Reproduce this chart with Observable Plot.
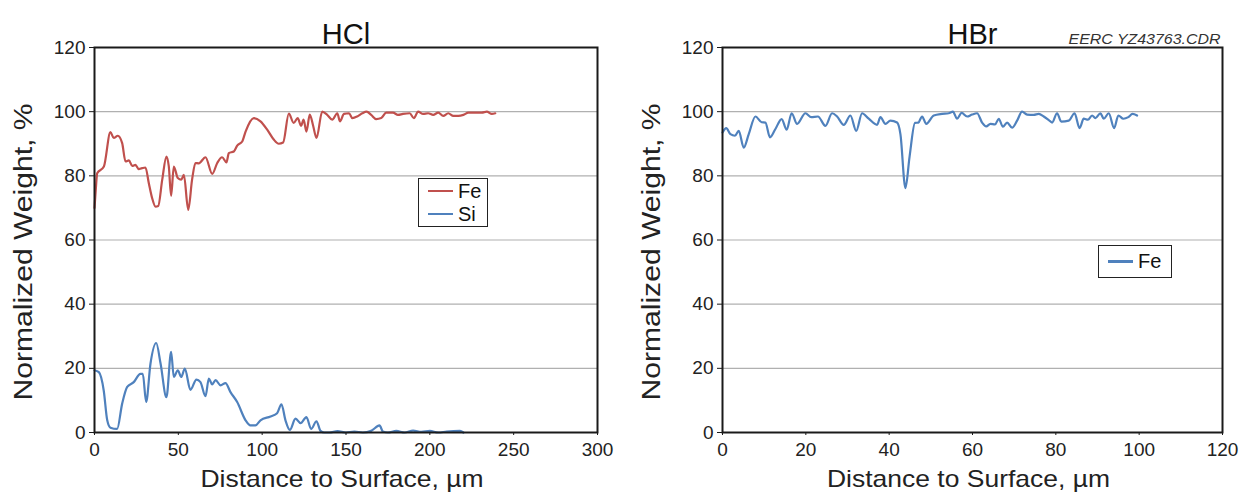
<!DOCTYPE html>
<html><head><meta charset="utf-8">
<script src="https://cdn.jsdelivr.net/npm/d3@7"></script>
<script src="https://cdn.jsdelivr.net/npm/@observablehq/plot@0.6"></script>
<style>
body{margin:0;background:#fff;font-family:"Liberation Sans",Arial,sans-serif;}
#wrap{position:relative;width:1247px;height:492px;display:flex;}
.legend{position:absolute;box-sizing:border-box;border:1.5px solid #222;background:#fff;font-size:20px;color:#111;display:flex;flex-direction:column;justify-content:center;}
.legend .row{display:flex;align-items:center;height:23px;}
.legend .sw{width:25px;height:2.5px;margin-left:9px;margin-right:5px;}
</style>
</head><body>
<div id="wrap"></div>
<script>
// ---- Data ----
const titles = ["HCl", "HBr"];
const yLabel = "Normalized Weight, %";
const xLabel = "Distance to Surface, µm";
const note = "EERC YZ43763.CDR";
const yTicks = [0, 20, 40, 60, 80, 100, 120];
const hclXTicks = [0, 50, 100, 150, 200, 250, 300];
const hbrXTicks = [0, 20, 40, 60, 80, 100, 120];
const seriesNames = ["Fe", "Si"];
const colors = {Fe: "#c0504d", Si: "#4f81bd", FeBr: "#4f81bd"};

const hclFeDist = [0,0.8,1.6,5.6,9.5,11.5,13.9,16.5,18.5,20.5,22.5,24.4,26.4,28.4,30.4,32.4,34.4,36.4,38,40.4,42.9,44.3,45.7,47.3,49.7,51.7,53.3,55.9,58.2,60.2,62.2,66.2,70.2,73.2,76.1,78.7,80.1,83.1,85.1,88.1,90.1,95,99,103,106.9,109.9,112.5,115.9,118.8,121.2,123.2,124.7,126.4,128.4,130.4,132.4,135.8,138.8,141.8,144.8,146.4,148.8,151.8,153.8,156.7,159.7,162.3,165,168,171,174,178,181,184,188,190.5,193,196,199,202,205,208,211,214,217,220,223,227,231,234,237,239];
const hclFe = [70,76,80.8,82.9,93.6,91.8,92.5,90.2,84.5,84.8,83.1,83.4,82.1,82.4,82.6,77.7,73,70.4,70.6,78.8,86,83,73.8,82.9,79.3,78.8,80.3,69.4,78.8,84,83.9,85.8,80.6,84,85.8,84.2,87.1,87.6,89.4,90.7,93.8,98,97,94.4,91.3,90,90.4,99.4,96.5,98,95.6,97.5,93.8,99.1,95.6,91.8,100,99,97.5,99.5,97,99.3,99.5,98,98.5,99.5,100,99,97.7,98,99.7,99.7,99,99.3,99.5,98,100,99.3,99.5,99,99.7,98.7,99.5,98.7,98.7,99,99.7,99.7,99.7,100,99.3,99.5];

const hclSiDist = [0,2.6,5.5,7.6,9.5,13.5,16.5,19.5,23.4,27.4,28.8,30.8,33.4,36.8,39.4,42.9,45.7,47.3,49.7,51.7,53.9,57.2,60.8,63.2,66.2,68.2,70.2,72.2,75.2,78.1,81.1,85.1,90.1,93,96,99,105,108.9,111.5,113.9,116.5,119.9,122.9,126.4,129.2,132.4,134.8,137,140,145,150,155,160,165,170,172,175,180,185,190,195,200,205,210,218,220];
const hclSi = [19.4,18.8,13.1,3.8,1.5,1.1,9,14.2,15.7,18.3,18.3,9.5,21.5,27.9,21.5,11,25.1,17.3,19.4,17.3,19.9,13.3,16.5,15.7,11.3,16.8,15,16.3,14.7,15.4,12.6,9.5,3.8,2.2,2.2,3.8,5,6,8.8,3.8,0.8,4.3,2.9,4.8,1.1,3.5,0.5,0,0,0.4,0,0.3,0,0.5,2.2,0.3,0,0.5,0,0.6,0.2,0.5,0,0.3,0.5,0];

const hbrDist = [0,0.9,1.9,3,3.9,5.1,6.3,7.9,9.4,10.3,11.4,12.7,14.2,15.4,16.6,17.9,19.9,21.3,22.9,24.7,26.3,27.5,29.1,30.7,32.1,33.5,35.1,37.1,37.9,39.1,40.3,41.9,42.7,43.9,44.9,46.2,47,47.9,48.9,50.7,52.7,54.3,55.3,56.3,57.4,58.7,59.9,61.1,62.3,63.3,64.3,65.4,66.3,67.3,68.3,69.5,70.7,71.9,73.1,74.7,75.9,77.1,78.3,79.1,80.3,81.3,83.1,84.5,85.7,86.7,87.7,88.7,89.5,90.7,91.5,92.7,94,95,96.2,97.4,98.4,99.5];
const hbrFe = [93.5,94.9,93,92.5,94,88.8,93,98.5,96.7,96.6,92,94.6,97.7,94.4,99.5,96.2,99.5,98.3,98.5,95.6,99.5,98.5,95.9,98.8,94,99.5,97.8,95.9,98.3,96.2,97.2,96.6,93,76.2,86,96.5,96.6,98.5,96.2,98.8,99.3,99.5,100,97.8,99.6,98.5,99.1,99.5,96.6,95.4,96.2,96,97.8,95.3,96.6,95,97.2,100,99.1,99,99.3,98.5,97.4,96.6,99.5,96.9,97.2,99.5,94.9,97.8,97.5,98.8,98,99.5,97.8,99.5,94.9,98.8,97.8,98.3,99.3,98.8];

const font = '"Liberation Sans", Arial, sans-serif';

function panel({width, marginLeft, marginRight, xDomain, xTicks, title, lines, extra = []}) {
  const svg = Plot.plot({
    width, height: 492,
    marginLeft, marginRight, marginTop: 47, marginBottom: 60,
    style: {fontFamily: font, color: "#222", background: "#fff", overflow: "visible"},
    x: {domain: xDomain},
    y: {domain: [0, 120]},
    marks: [
      Plot.gridY([20, 40, 60, 80, 100], {stroke: "#b0b0b0", strokeOpacity: 1, strokeWidth: 1.2}),
      ...lines,
      Plot.frame({stroke: "#1a1a1a", strokeWidth: 2}),
      Plot.axisY(yTicks, {tickSize: 5, tickPadding: 4, fontSize: 19, label: null, stroke: "#1a1a1a"}),
      Plot.axisX(xTicks, {tickSize: 3, tickPadding: 7, fontSize: 19, label: null, stroke: "#1a1a1a"}),
      Plot.text([yLabel], {frameAnchor: "left", textAnchor: "middle", rotate: -90, dx: -71, dy: 12, fontSize: 25, fill: "#222"}),
      Plot.text([xLabel], {frameAnchor: "bottom", dx: -4, dy: 54, fontSize: 24, fill: "#222"}),
      Plot.text([title], {frameAnchor: "top", dy: -24, fontSize: 29, fill: "#111"}),
      ...extra
    ]
  });
  d3.select(svg).selectAll("text").each(function() {
    const t = this.textContent;
    if (t === yLabel) { this.setAttribute("textLength", 297); this.setAttribute("lengthAdjust", "spacingAndGlyphs"); }
    if (t === xLabel) { this.setAttribute("textLength", 283); this.setAttribute("lengthAdjust", "spacingAndGlyphs"); }
    if (t === note) { this.setAttribute("textLength", 152); this.setAttribute("lengthAdjust", "spacingAndGlyphs"); }
  });
  return svg;
}

const hclFeData = hclFeDist.map((d, i) => ({d, v: hclFe[i]}));
const hclSiData = hclSiDist.map((d, i) => ({d, v: hclSi[i]}));
const hbrData = hbrDist.map((d, i) => ({d, v: hbrFe[i]}));

const left = panel({
  width: 623, marginLeft: 94, marginRight: 26,
  xDomain: [0, 300], xTicks: hclXTicks, title: titles[0],
  lines: [
    Plot.line(hclSiData, {x: "d", y: "v", stroke: colors.Si, strokeWidth: 2.2, curve: "monotone-x"}),
    Plot.line(hclFeData, {x: "d", y: "v", stroke: colors.Fe, strokeWidth: 2.2, curve: "monotone-x"})
  ]
});
const right = panel({
  width: 624, marginLeft: 99, marginRight: 25,
  xDomain: [0, 120], xTicks: hbrXTicks, title: titles[1],
  lines: [
    Plot.line(hbrData, {x: "d", y: "v", stroke: colors.FeBr, strokeWidth: 2.2, curve: "monotone-x"})
  ],
  extra: [
    Plot.text([note], {frameAnchor: "top-right", textAnchor: "end", lineAnchor: "bottom", dy: -4, dx: -2, fontSize: 15.5, fontStyle: "italic", fill: "#333"})
  ]
});

const wrap = document.getElementById("wrap");
wrap.append(left, right);

function legend(items, left, top, w, h) {
  const box = document.createElement("div");
  box.className = "legend";
  Object.assign(box.style, {left: left + "px", top: top + "px", width: w + "px", height: h + "px"});
  for (const [name, color] of items) {
    const row = document.createElement("div");
    row.className = "row";
    const sw = document.createElement("span");
    sw.className = "sw";
    sw.style.background = color;
    const t = document.createElement("span");
    t.textContent = name;
    row.append(sw, t);
    box.append(row);
  }
  wrap.append(box);
}
legend([[seriesNames[0], colors.Fe], [seriesNames[1], colors.Si]], 418, 178, 70, 49);
legend([[seriesNames[0], colors.FeBr]], 1098, 245, 74, 33);
</script>
</body></html>
